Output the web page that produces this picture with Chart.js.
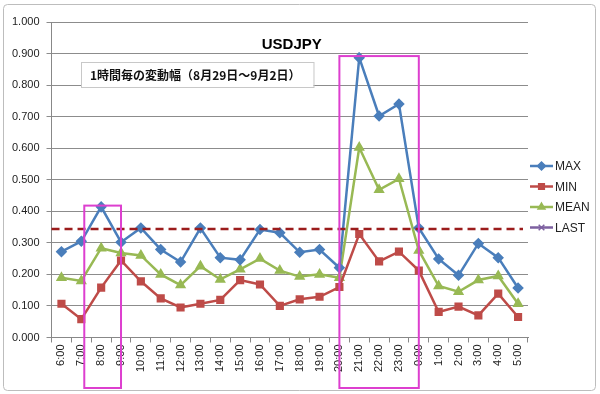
<!DOCTYPE html>
<html>
<head>
<meta charset="utf-8">
<style>
  html, body { margin: 0; padding: 0; background: #fff; }
  #wrap { width: 600px; height: 394px; position: relative; }
</style>
<script src="https://cdn.jsdelivr.net/npm/chart.js@4"></script>
</head>
<body>
<div id="wrap"><canvas id="grafik" width="600" height="394"></canvas></div>
<script>
// data
const jam = ["6:00","7:00","8:00","9:00","10:00","11:00","12:00","13:00","14:00","15:00","16:00","17:00",
  "18:00","19:00","20:00","21:00","22:00","23:00","0:00","1:00","2:00","3:00","4:00","5:00"];
const nilaiMax = [0.272,0.305,0.414,0.302,0.347,0.279,0.239,0.347,0.253,0.246,0.342,0.332,
  0.270,0.279,0.221,0.887,0.702,0.740,0.347,0.249,0.197,0.298,0.253,0.157];
const nilaiMin = [0.107,0.058,0.158,0.244,0.178,0.124,0.095,0.107,0.119,0.182,0.168,0.100,
  0.121,0.129,0.160,0.328,0.241,0.272,0.212,0.081,0.098,0.070,0.139,0.065];
const nilaiMean = [0.189,0.179,0.283,0.268,0.260,0.200,0.166,0.226,0.184,0.216,0.250,0.212,
  0.193,0.200,0.189,0.602,0.468,0.503,0.276,0.163,0.145,0.182,0.195,0.107];
const nilaiLast = 0.344;
const tickY = [0,0.1,0.2,0.3,0.4,0.5,0.6,0.7,0.8,0.9,1.0];

const judul = "USDJPY";
const subJudul = "1時間毎の変動幅（8月29日～9月2日）";

// kotak sorotan: indeks kategori kiri/kanan dan nilai atas
const sorotan = [
  { dari: 1.15, ke: 3, atas: 0.418 },
  { dari: 14, ke: 18, atas: 0.892 },
];

const warna = { max: "#4A7EBB", min: "#BE4B48", mean: "#98B954", last: "#7D60A0" };

const pluginHiasan = {
  id: "hiasan",
  beforeDraw(chart) {
    const { ctx } = chart;
    ctx.save();
    ctx.fillStyle = "#fff";
    ctx.fillRect(0, 0, chart.width, chart.height);
    ctx.strokeStyle = "#bdbdbd";
    ctx.lineWidth = 1;
    ctx.beginPath();
    ctx.roundRect(3.5, 4.5, 592, 386, 4);
    ctx.stroke();
    ctx.restore();
  },
  afterDatasetsDraw(chart) {
    const { ctx, chartArea: a, scales: { x, y } } = chart;
    ctx.save();
    // garis LAST putus-putus
    const yl = y.getPixelForValue(nilaiLast);
    ctx.strokeStyle = "#9B1C1C";
    ctx.lineWidth = 2.5;
    ctx.setLineDash([8, 5]);
    ctx.beginPath();
    ctx.moveTo(a.left, yl);
    ctx.lineTo(a.right - 5, yl);
    ctx.stroke();
    ctx.setLineDash([]);

    // kotak magenta
    const langkah = x.getPixelForValue(1) - x.getPixelForValue(0);
    ctx.strokeStyle = "#DD3FCF";
    ctx.lineWidth = 2;
    sorotan.forEach((s) => {
      const kiri = x.getPixelForValue(0) + s.dari * langkah;
      const kanan = x.getPixelForValue(0) + s.ke * langkah;
      const atas = y.getPixelForValue(s.atas);
      ctx.strokeRect(kiri, atas, kanan - kiri, 388 - atas);
    });

    // judul
    ctx.fillStyle = "#000";
    ctx.font = "bold 15px 'Liberation Sans', Arial, sans-serif";
    ctx.textAlign = "center";
    ctx.textBaseline = "middle";
    ctx.fillText(judul, (a.left + a.right) / 2 + 2, 45);

    // sub judul dalam kotak
    ctx.font = "bold 12px 'Noto Sans CJK JP', sans-serif";
    ctx.textAlign = "left";
    const lebar = ctx.measureText(subJudul).width;
    ctx.fillStyle = "#fff";
    ctx.fillRect(81, 62, lebar + 22, 25);
    ctx.strokeStyle = "#c8c8c8";
    ctx.lineWidth = 1;
    ctx.strokeRect(81.5, 62.5, lebar + 22, 25);
    ctx.fillStyle = "#111";
    ctx.fillText(subJudul, 90, 75);

    // legenda
    const isi = [
      { teks: "MAX", warna: warna.max, bentuk: "rectRot" },
      { teks: "MIN", warna: warna.min, bentuk: "rect" },
      { teks: "MEAN", warna: warna.mean, bentuk: "triangle" },
      { teks: "LAST", warna: warna.last, bentuk: "crossRot" },
    ];
    ctx.font = "12px 'Liberation Sans', Arial, sans-serif";
    isi.forEach((e, i) => {
      const yy = 166 + i * 20.5;
      ctx.strokeStyle = e.warna;
      ctx.fillStyle = e.warna;
      ctx.lineWidth = 2.5;
      ctx.beginPath();
      ctx.moveTo(530, yy);
      ctx.lineTo(553, yy);
      ctx.stroke();
      ctx.lineWidth = 1.5;
      Chart.helpers.drawPoint(ctx, { pointStyle: e.bentuk, radius: 4, rotation: 0, borderWidth: 1.5 }, 541.5, yy);
      ctx.fillStyle = "#222";
      ctx.textBaseline = "middle";
      ctx.fillText(e.teks, 555, yy + 1);
    });
    ctx.restore();
  },
};

const seri = (label, data, c, bentuk) => ({
  label, data,
  borderColor: c, backgroundColor: c,
  borderWidth: 2.5, pointStyle: bentuk, pointRadius: 4, pointHoverRadius: 4,
  pointBorderColor: c, pointBackgroundColor: c, tension: 0,
});

new Chart(document.getElementById("grafik"), {
  type: "line",
  data: {
    labels: jam,
    datasets: [
      seri("MAX", nilaiMax, warna.max, "rectRot"),
      seri("MIN", nilaiMin, warna.min, "rect"),
      seri("MEAN", nilaiMean, warna.mean, "triangle"),
    ],
  },
  options: {
    responsive: false,
    animation: false,
    layout: { padding: { left: 5, top: 22, right: 72, bottom: 20 } },
    plugins: { legend: { display: false }, tooltip: { enabled: false } },
    scales: {
      x: {
        offset: true,
        grid: { offset: true, drawOnChartArea: false, drawTicks: true, tickLength: 5, color: "#888" },
        border: { color: "#888", width: 1 },
        ticks: {
          minRotation: 90, maxRotation: 90, autoSkip: false, padding: 2,
          color: "#222", font: { size: 11, family: "'Liberation Sans', Arial, sans-serif" },
        },
      },
      y: {
        min: 0, max: 1,
        afterBuildTicks: (s) => { s.ticks = tickY.map((v) => ({ value: v })); },
        grid: { color: "#8c8c8c", lineWidth: 1, drawTicks: true, tickLength: 5 },
        border: { color: "#888", width: 1 },
        ticks: {
          callback: (v) => Number(v).toFixed(3), padding: 7,
          color: "#222", font: { size: 11, family: "'Liberation Sans', Arial, sans-serif" },
        },
      },
    },
  },
  plugins: [pluginHiasan],
});
</script>
</body>
</html>
